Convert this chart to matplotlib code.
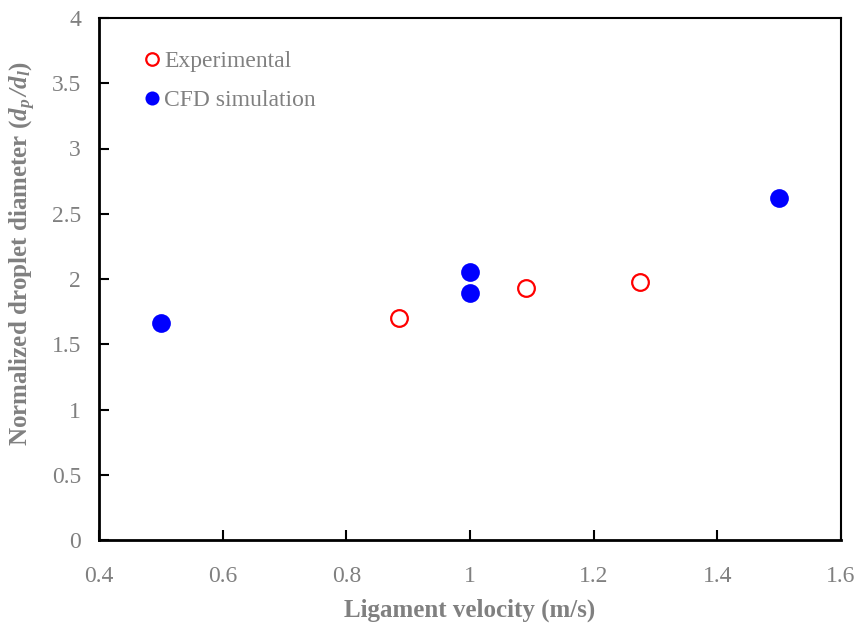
import matplotlib
matplotlib.use("Agg")
import matplotlib.pyplot as plt

# data
exp_v = [0.885, 1.09, 1.275]
exp_d = [1.70, 1.93, 1.98]
cfd_v = [0.5, 1.0, 1.0, 1.5]
cfd_d = [1.66, 2.05, 1.89, 2.62]

xticks = [0.4, 0.6, 0.8, 1.0, 1.2, 1.4, 1.6]
xticklabels = ["0.4", "0.6", "0.8", "1", "1.2", "1.4", "1.6"]
yticks = [0, 0.5, 1, 1.5, 2, 2.5, 3, 3.5, 4]
yticklabels = ["0", "0.5", "1", "1.5", "2", "2.5", "3", "3.5", "4"]

grey = "#808080"
plt.rcParams['font.family'] = ['Liberation Serif', 'DejaVu Serif']
plt.rcParams['mathtext.fontset'] = 'custom'
plt.rcParams['mathtext.rm'] = 'Liberation Serif'
plt.rcParams['mathtext.it'] = 'Liberation Serif:italic'
plt.rcParams['mathtext.bf'] = 'Liberation Serif:bold'
plt.rcParams['mathtext.bfit'] = 'Liberation Serif:italic:bold'

fig = plt.figure(figsize=(8.58, 6.27), dpi=100)
ax = fig.add_axes([99/858, 1 - 540/627, 742/858, 522/627])

ax.plot(exp_v, exp_d, 'o', ms=12, mfc='white', mec='red', mew=1.6,
        ls='none', label='Experimental')
ax.plot(cfd_v, cfd_d, 'o', ms=13.5, mfc='blue', mec='blue', mew=0,
        ls='none', label='CFD simulation')

ax.set_xlim(0.4, 1.6)
ax.set_ylim(0, 4)
ax.set_xticks(xticks)
ax.set_xticklabels(xticklabels)
ax.set_yticks(yticks)
ax.set_yticklabels(yticklabels)
ax.tick_params(direction='in', length=7, width=1.5, colors='black',
               labelcolor=grey, labelsize=17)
ax.tick_params(axis='x', pad=19)
ax.tick_params(axis='y', pad=13)
for s in ax.spines.values():
    s.set_linewidth(1.5)
    s.set_color('black')
ax.spines['left'].set_linewidth(2)
ax.spines['bottom'].set_linewidth(2)

ax.set_xlabel('Ligament velocity (m/s)', fontsize=18, fontweight='bold',
              color=grey, labelpad=8)
ax.set_ylabel(r'Normalized droplet diameter ($\mathbfit{d_p}$$\,\mathbfit{/d_l}$)',
              fontsize=18, fontweight='bold', color=grey)
ax.yaxis.set_label_coords(-0.082, 0.548)

leg = ax.legend(loc='upper left', bbox_to_anchor=(0.04, 0.955), frameon=False,
                fontsize=17, handletextpad=-0.1, handlelength=1.2,
                labelspacing=0.72, markerscale=0.75, borderaxespad=0)
for t in leg.get_texts():
    t.set_color(grey)

fig.savefig('out.png', dpi=100)
